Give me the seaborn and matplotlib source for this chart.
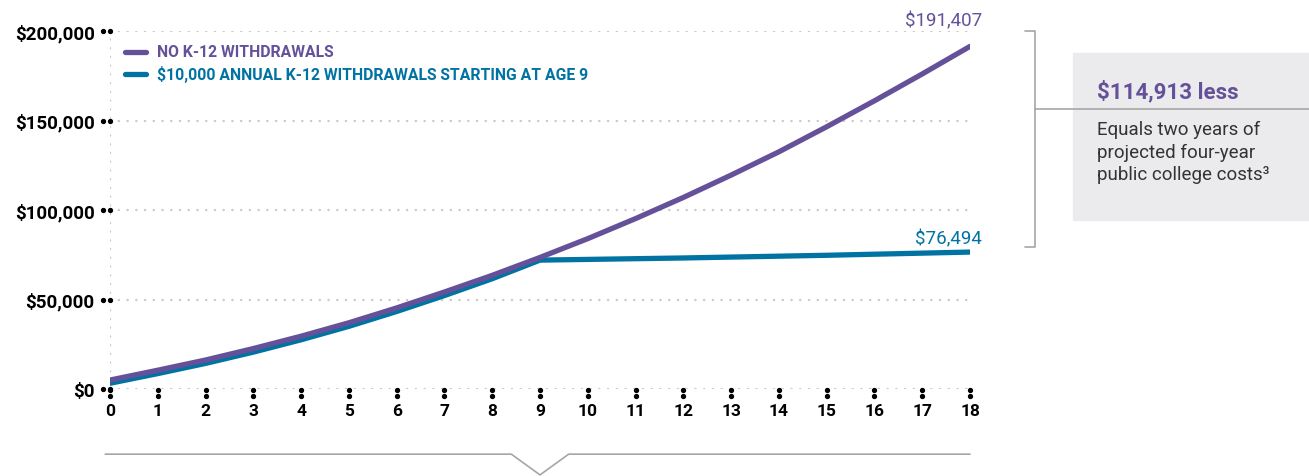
import pandas as pd
import seaborn as sns
import matplotlib.pyplot as plt
import matplotlib.transforms as mtransforms
from matplotlib.patches import Rectangle
from matplotlib.ticker import FuncFormatter

# Data
ages = list(range(0, 19))
no_withdrawals = [5000, 10500, 16200, 22600, 29500, 37000, 45300, 54200, 63500,
                  73500, 84000, 95200, 107000, 119500, 132500, 146500, 161000,
                  176000, 191407]
with_withdrawals = [3200, 8600, 14300, 20600, 27500, 35000, 43300, 52200, 61600,
                    72000, 72400, 72800, 73200, 73700, 74200, 74700, 75300,
                    75900, 76494]
series_names = ['NO K-12 WITHDRAWALS',
                '$10,000 ANNUAL K-12 WITHDRAWALS STARTING AT AGE 9']
y_ticks = [0, 50000, 100000, 150000, 200000]

PURPLE = '#65519a'
BLUE = '#0073a3'
GRID = '#c9c9c9'

df = pd.DataFrame({'age': ages * 2,
                   'value': no_withdrawals + with_withdrawals,
                   'series': [series_names[0]] * 19 + [series_names[1]] * 19})

sns.set_style('white')
plt.rcParams['font.family'] = ['Roboto', 'DejaVu Sans']

fig = plt.figure(figsize=(13.09, 4.77), dpi=100)
W, H = 1309, 477
ax = fig.add_axes([110 / W, 1 - 390 / H, 860 / W, 358 / H])

sns.lineplot(data=df, x='age', y='value', hue='series',
             palette=[PURPLE, BLUE], linewidth=3.8, ax=ax, legend=False,
             solid_capstyle='round', zorder=3)
# purple drawn on top of blue before age 9 like the original
ax.lines[0].set_zorder(4)

ax.set_xlim(0, 18)
ax.set_ylim(0, 200000)
ax.set_xlabel('')
ax.set_ylabel('')
ax.set_xticks(ages)
ax.set_yticks(y_ticks)
ax.yaxis.set_major_formatter(FuncFormatter(lambda v, p: f'${v:,.0f}'))
ax.tick_params(axis='both', length=0, colors='black')
ax.tick_params(axis='y', pad=11, labelsize=13.5)
ax.tick_params(axis='x', pad=10, labelsize=12.5)
for lab in ax.get_xticklabels() + ax.get_yticklabels():
    lab.set_fontweight('bold')
for s in ax.spines.values():
    s.set_visible(False)

# dotted grid
dots = dict(color=GRID, linestyle=(0, (0.1, 3.6)), linewidth=1.7,
            dash_capstyle='round', zorder=1)
for v in y_ticks:
    ax.axhline(v, **dots)
ax.axvline(0, **dots)

# dot-style tick marks
ty = mtransforms.blended_transform_factory(ax.transAxes, ax.transData)
for v in y_ticks:
    ax.plot([-0.0085, 0], [v, v], 'o', color='black', ms=2.8,
            transform=ty, clip_on=False, zorder=5)
tx = mtransforms.blended_transform_factory(ax.transData, ax.transAxes)
for a in ages:
    ax.plot([a, a], [-0.003, -0.019], 'o', color='black', ms=2.8,
            transform=tx, clip_on=False, zorder=5)

# legend
leg_y = [0.942, 0.88]
for name, col, yy in zip(series_names, [PURPLE, BLUE], leg_y):
    ax.plot([0.018, 0.042], [yy, yy], color=col, lw=3.8,
            solid_capstyle='round', transform=ax.transAxes, clip_on=False)
    ax.text(0.055, yy, name, color=col, fontsize=11.3, fontweight='bold',
            va='center', ha='left', transform=ax.transAxes)

# end labels
ax.text(18.25, no_withdrawals[-1] + 14500, f'${no_withdrawals[-1]:,}',
        color=PURPLE, fontsize=13.5, ha='right', va='center', clip_on=False)
ax.text(18.25, with_withdrawals[-1] + 7500, f'${with_withdrawals[-1]:,}',
        color=BLUE, fontsize=13.5, ha='right', va='center', clip_on=False)

# bottom bracket with notch at age 9
ax.plot([-0.1, 8.4, 9, 9.6, 18], [-0.182, -0.182, -0.24, -0.182, -0.182],
        color='#a6a6a6', lw=1.2, transform=tx, clip_on=False)

# right-hand annotation in pixel space
ov = fig.add_axes([0, 0, 1, 1], zorder=-1)
ov.set_xlim(0, W)
ov.set_ylim(H, 0)
ov.axis('off')
ov.add_patch(Rectangle((1073, 54), 236, 167, color='#ebebed', zorder=0))
ov.plot([1025, 1035, 1035, 1025], [32, 32, 248, 248], color='#a6a6a6', lw=1.2)
ov.plot([1035, 1309], [110, 110], color='#a6a6a6', lw=1.2)
ov.text(1097, 92, '$114,913 less', color=PURPLE, fontsize=16,
        fontweight='bold', va='center', ha='left')
ov.text(1097, 121, 'Equals two years of\nprojected four-year\npublic college costs\u00b3',
        color='#333333', fontsize=13.5, va='top', ha='left', linespacing=1.32)

fig.savefig('out.png', dpi=100)
